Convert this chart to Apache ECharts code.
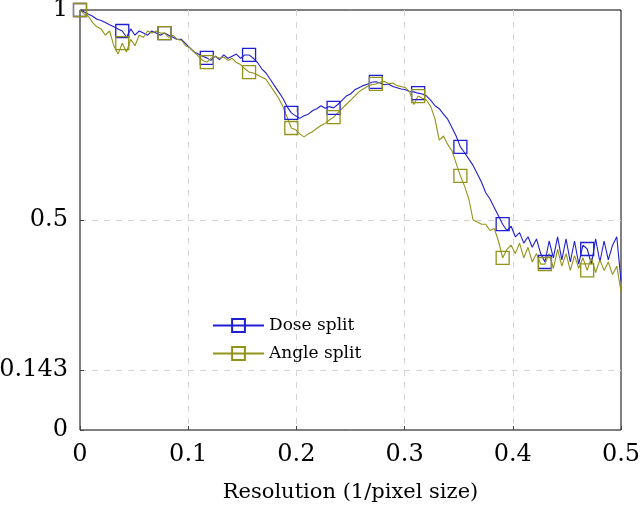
<!DOCTYPE html>
<html>
<head>
<meta charset="utf-8">
<script src="https://cdn.jsdelivr.net/npm/echarts@6/dist/echarts.min.js"></script>
<style>
  html, body { margin: 0; padding: 0; background: #fff; }
  #chart { width: 640px; height: 506px; }
</style>
</head>
<body>
<div id="chart"></div>
<script>
// sampled at 1/256 steps from 0 to 0.5
const doseSplit = [
  1.0, 0.995, 0.99, 0.985, 0.978, 0.975, 0.97, 0.965, 0.96, 0.955,
  0.95, 0.935, 0.955, 0.94, 0.95, 0.945, 0.94, 0.95, 0.945, 0.94,
  0.945, 0.94, 0.935, 0.93, 0.93, 0.92, 0.91, 0.9, 0.895, 0.89,
  0.886, 0.88, 0.89, 0.882, 0.893, 0.885, 0.89, 0.895, 0.885, 0.893,
  0.893, 0.885, 0.875, 0.86, 0.85, 0.835, 0.82, 0.805, 0.79, 0.77,
  0.755, 0.748, 0.742, 0.748, 0.752, 0.76, 0.765, 0.772, 0.766, 0.77,
  0.767, 0.775, 0.785, 0.795, 0.8, 0.81, 0.815, 0.82, 0.823, 0.828,
  0.829, 0.826, 0.822, 0.824, 0.818, 0.815, 0.812, 0.81, 0.806, 0.805,
  0.802, 0.8, 0.795, 0.785, 0.772, 0.765, 0.752, 0.74, 0.72, 0.7,
  0.674, 0.66, 0.645, 0.63, 0.61, 0.59, 0.565, 0.55, 0.53, 0.51,
  0.49, 0.475, 0.485, 0.46, 0.47, 0.445, 0.46, 0.435, 0.455, 0.42,
  0.40, 0.45, 0.41, 0.46, 0.405, 0.455, 0.4, 0.45, 0.395, 0.44,
  0.431, 0.395, 0.455, 0.4, 0.45, 0.405, 0.44, 0.46, 0.355
];
const angleSplit = [
  1.0, 0.99, 0.985, 0.97, 0.96, 0.955, 0.94, 0.95, 0.915, 0.895,
  0.921, 0.9, 0.93, 0.915, 0.94, 0.935, 0.95, 0.945, 0.95, 0.945,
  0.945, 0.935, 0.94, 0.93, 0.928, 0.915, 0.91, 0.9, 0.89, 0.88,
  0.876, 0.885, 0.89, 0.885, 0.888, 0.88, 0.885, 0.875, 0.87, 0.86,
  0.852, 0.85, 0.845, 0.84, 0.835, 0.82, 0.805, 0.79, 0.77, 0.745,
  0.719, 0.715, 0.705, 0.698, 0.705, 0.71, 0.718, 0.725, 0.73, 0.738,
  0.745, 0.755, 0.765, 0.775, 0.785, 0.795, 0.805, 0.812, 0.818, 0.822,
  0.824, 0.828, 0.83, 0.825, 0.826, 0.82, 0.818, 0.815, 0.805, 0.775,
  0.795, 0.79, 0.785, 0.77, 0.74, 0.69, 0.7, 0.68, 0.665, 0.635,
  0.605, 0.58, 0.55, 0.5, 0.495, 0.49, 0.49, 0.475, 0.48, 0.45,
  0.41, 0.43, 0.44, 0.42, 0.445, 0.41, 0.435, 0.4, 0.42, 0.395,
  0.395, 0.42, 0.385, 0.43, 0.39, 0.42, 0.38, 0.415, 0.385, 0.41,
  0.38, 0.41, 0.375, 0.405, 0.38, 0.4, 0.37, 0.39, 0.33
];
const xTicks = [0, 0.1, 0.2, 0.3, 0.4, 0.5];
const yTicks = [0, 0.143, 0.5, 1];
const step = 1 / 256;
const markEvery = 10;

const BLUE = '#1f1fd2';
const OLIVE = '#939318';
const FONT = '"DejaVu Serif", "Liberation Serif", serif';

function toPoints(vals) {
  return vals.map((v, i) => [i * step, v]);
}

function lineSeries(name, vals, color) {
  return {
    name: name,
    type: 'line',
    data: toPoints(vals),
    symbol: 'rect',
    symbolSize: (v, p) => (p.dataIndex % markEvery === 0 ? 13 : 0),
    showAllSymbol: true,
    lineStyle: { color: color, width: 1.1 },
    itemStyle: { color: 'rgba(0,0,0,0)', borderColor: color, borderWidth: 1.3 },
    emphasis: { disabled: true },
    animation: false
  };
}

const gridLine = { show: true, showMinLine: false, showMaxLine: false,
  lineStyle: { color: '#d4d4d4', type: [6, 6], width: 1 } };

const chart = echarts.init(document.getElementById('chart'));
chart.setOption({
  backgroundColor: '#fff',
  animation: false,
  grid: {
    left: 80, right: 19, top: 10, bottom: 76,
    outerBoundsMode: 'none',
    containLabel: false,
    show: true, borderColor: '#000', borderWidth: 1
  },
  legend: {
    left: 207, top: 312,
    orient: 'vertical',
    itemGap: 11,
    itemWidth: 51, itemHeight: 16,
    textStyle: { fontFamily: FONT, fontSize: 17, color: '#000' },
    data: ['Dose split', 'Angle split']
  },
  xAxis: {
    type: 'value',
    min: 0, max: 0.5, interval: 0.1,
    name: 'Resolution (1/pixel size)',
    nameLocation: 'middle',
    nameGap: 52,
    nameTextStyle: { fontFamily: FONT, fontSize: 21, color: '#000' },
    axisLine: { show: false },
    axisTick: { show: true, inside: true, length: 4, lineStyle: { color: '#444' } },
    axisLabel: {
      fontFamily: FONT, fontSize: 24, color: '#000', margin: 13,
      formatter: v => xTicks.indexOf(+v.toFixed(3)) >= 0 ? String(+v.toFixed(1)) : ''
    },
    splitLine: gridLine
  },
  yAxis: {
    type: 'value',
    min: 0, max: 1,
    axisLine: { show: false },
    axisTick: { show: true, inside: true, length: 4, customValues: yTicks, lineStyle: { color: '#444' } },
    axisLabel: {
      fontFamily: FONT, fontSize: 24, color: '#000', margin: 12,
      customValues: yTicks,
      formatter: v => String(v)
    },
    splitLine: gridLine
  },
  series: [
    lineSeries('Dose split', doseSplit, BLUE),
    lineSeries('Angle split', angleSplit, OLIVE)
  ]
});
</script>
</body>
</html>
